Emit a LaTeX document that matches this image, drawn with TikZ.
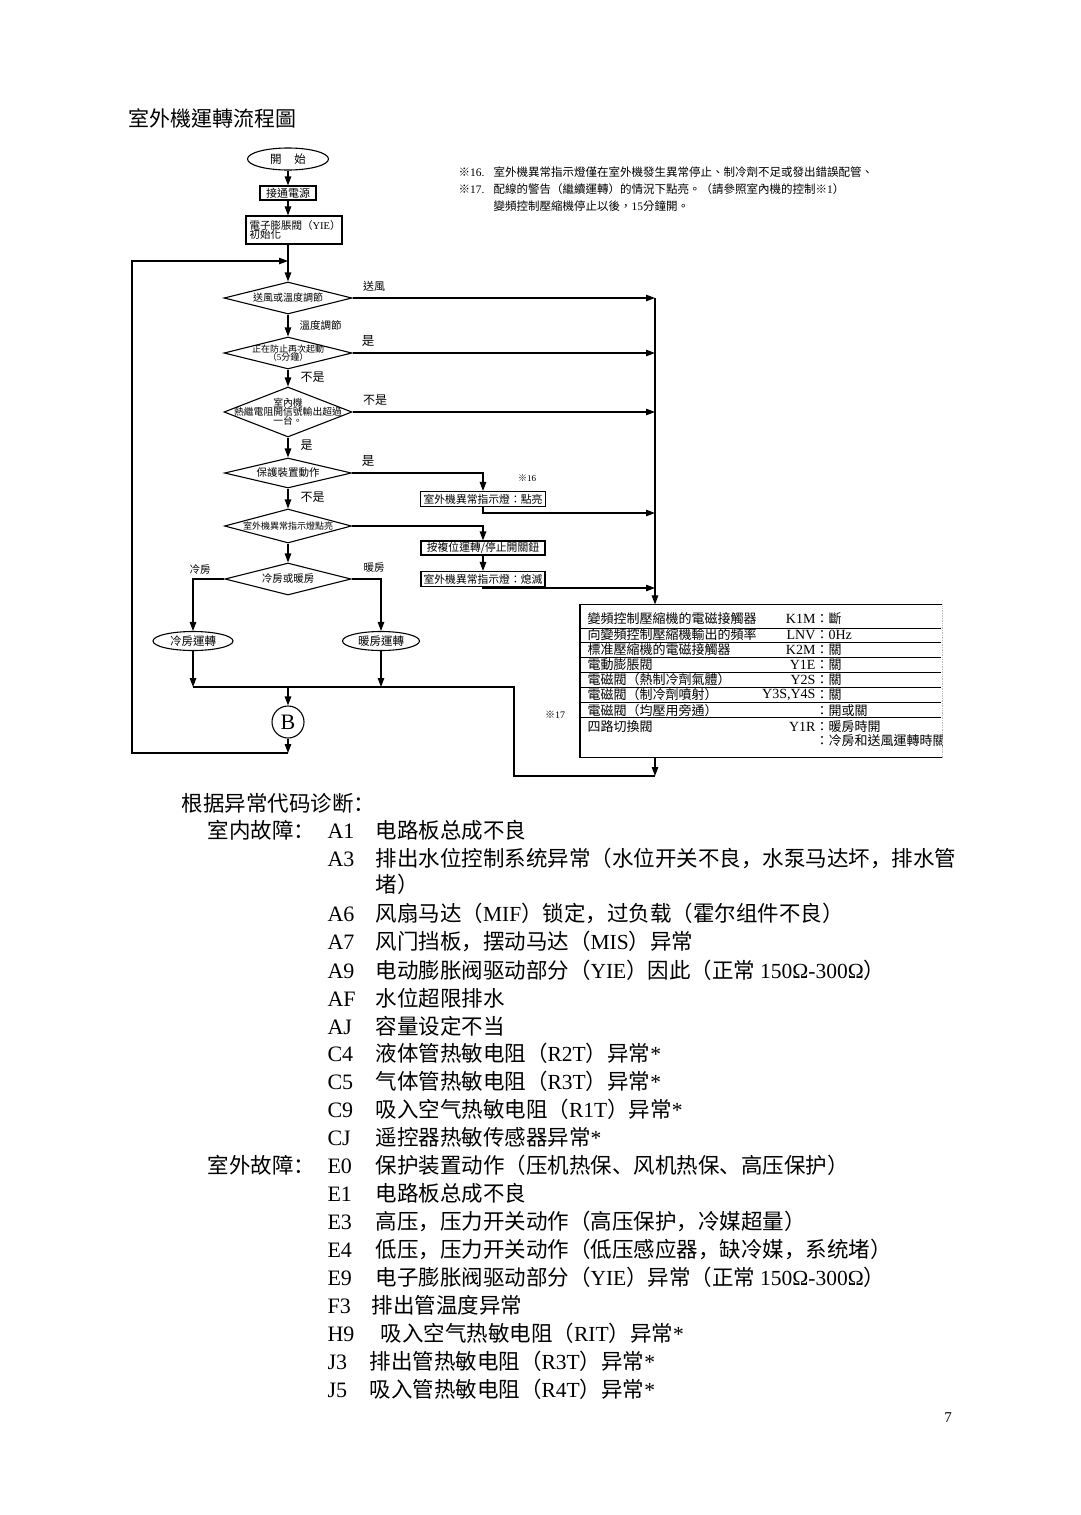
\documentclass[tikz,border=0pt]{standalone}
\usepackage{fontspec}
\setmainfont{Liberation Serif}
\newfontfamily\tcf{Noto Sans CJK TC}
\newfontfamily\scf{Noto Sans CJK SC}
\usetikzlibrary{arrows.meta,shapes.geometric}
\newcommand{\fsz}[1]{\fontsize{#1}{#1}\selectfont}
\newcommand{\lt}[1]{{\rmfamily #1}}
\begin{document}
\begin{tikzpicture}[x=1pt,y=-1pt,line width=1.1pt,
  arr/.style={-{Triangle[length=9pt,width=6.5pt]}},
  dia/.style={draw,diamond,inner sep=0pt},
  box/.style={draw,rectangle,inner sep=0pt},
  termi/.style={draw,ellipse,inner sep=0pt},
  ft/.style={inner sep=0pt,font=\tcf\fsz{10.5}},
  dt/.style={inner sep=0pt,align=center,font=\tcf\fsz{9.5}},
  lab/.style={inner sep=0pt,font=\tcf\fsz{12}},
  tt/.style={inner sep=0pt,font=\tcf\fsz{13}},
  nt/.style={inner sep=0pt,anchor=west,font=\tcf\fsz{11.5}},
  lc/.style={inner sep=0pt,anchor=base west,font=\rmfamily\fsz{22}},
  lx/.style={inner sep=0pt,anchor=base west,font=\scf\fsz{21.5}}]
\useasboundingbox (0,0) rectangle (1080,1515);
\fill[white] (0,0) rectangle (1080,1515);

% title and notes
\node[inner sep=0pt,anchor=west,font=\tcf\fsz{21}] (title) at (128,118) {室外機運轉流程圖};
\node[nt] (n16) at (458,172) {※\lt{16.}};
\node[nt] (n16t) at (493,172) {室外機異常指示燈僅在室外機發生異常停止、制冷劑不足或發出錯誤配管、};
\node[nt] (n17) at (458,189) {※\lt{17.}};
\node[nt] (n17t) at (493,189) {配線的警告（繼續運轉）的情況下點亮。（請參照室內機的控制※\lt{1}）};
\node[nt] (n18t) at (493,206) {變頻控制壓縮機停止以後，\lt{15}分鐘開。};

% main column
\node[termi,minimum width=81pt,minimum height=22pt,font=\tcf\fsz{11.5}] (start) at (288,159) {開\hspace{13pt}始};
\node[box,minimum width=56pt,minimum height=14pt,font=\tcf\fsz{11}] (pw) at (288,193) {接通電源};
\node[box,minimum width=96pt,minimum height=28pt] (init) at (294,230) {};
\node[ft,anchor=west,align=left,font=\tcf\fsz{10.5}] (initt) at (249,230) {電子膨脹閥（\lt{YIE}）\\[-1pt]初始化};
\coordinate (j0) at (288,261);

\node[dia,minimum width=128pt,minimum height=32pt] (d1) at (288,298) {};
\node[dt,font=\tcf\fsz{10}] (d1t) at (d1) {送風或溫度調節};
\node[dia,minimum width=128pt,minimum height=32pt] (d2) at (288,353) {};
\node[dt,font=\tcf\fsz{9}] (d2t) at (d2) {正在防止再次起動\\[-1pt]（\lt{5}分鐘）};
\node[dia,minimum width=128pt,minimum height=50pt] (d3) at (288,412) {};
\node[dt,font=\tcf\fsz{9.8}] (d3t) at (d3) {室內機\\[-1pt]熱繼電阻開信號輸出超過\\[-1pt]一台。};
\node[dia,minimum width=127pt,minimum height=30pt] (d4) at (288,473) {};
\node[dt,font=\tcf\fsz{10.5}] (d4t) at (d4) {保護裝置動作};
\node[dia,minimum width=127pt,minimum height=34pt] (d5) at (288,526) {};
\node[dt,font=\tcf\fsz{9}] (d5t) at (d5) {室外機異常指示燈點亮};
\node[dia,minimum width=126pt,minimum height=32pt] (d6) at (288,579) {};
\node[dt,font=\tcf\fsz{10.5}] (d6t) at (d6) {冷房或暖房};

\node[termi,minimum width=80pt,minimum height=19pt,font=\tcf\fsz{11.5}] (c1) at (193,641) {冷房運轉};
\node[termi,minimum width=77pt,minimum height=19pt,font=\tcf\fsz{11.5}] (h1) at (381,641) {暖房運轉};
\node[draw,circle,minimum size=32pt,inner sep=0pt,font=\rmfamily\fsz{22}] (B) at (288,722) {B};

% branch labels
\node[lab,font=\tcf\fsz{11}] (l1) at (374,286) {送風};
\node[lab,anchor=west,font=\tcf\fsz{10.5}] (l2) at (299,325) {溫度調節};
\node[lab,font=\tcf\fsz{12.5}] (l3) at (368,341) {是};
\node[lab,anchor=west] (l4) at (300,377) {不是};
\node[lab] (l5) at (375,400) {不是};
\node[lab,anchor=west] (l6) at (300,445) {是};
\node[lab,font=\tcf\fsz{12.5}] (l7) at (368,461) {是};
\node[lab,anchor=west] (l8) at (300,497) {不是};
\node[lab,font=\tcf\fsz{10.5}] (l9) at (200,570) {冷房};
\node[lab,font=\tcf\fsz{10.5}] (l10) at (374,568) {暖房};
\node[lab,font=\tcf\fsz{9}] (l11) at (527,478) {※\lt{16}};
\node[lab,font=\tcf\fsz{10}] (l12) at (555,715) {※\lt{17}};

% right boxes
\node[box,minimum width=125pt,minimum height=15pt,font=\tcf\fsz{10.8}] (b1) at (483,499) {室外機異常指示燈：點亮};
\node[box,minimum width=124pt,minimum height=14pt,font=\tcf\fsz{10.8}] (b2) at (483,548) {按複位運轉/停止開關鈕};
\node[box,minimum width=124pt,minimum height=15pt,font=\tcf\fsz{10.8}] (b3) at (483,579) {室外機異常指示燈：熄滅};

% table
\node[minimum width=361pt,minimum height=152pt,inner sep=0pt] (tbl) at (761,681) {};
\draw[line width=1.3pt] (tbl.north east) -- (tbl.north west) -- (tbl.south west) -- (tbl.south east);
\draw[gray!55,line width=0.7pt,densely dotted] (tbl.north east) -- (tbl.south east);
\foreach \yy in {628,642,657,672,687,702,717} \draw[line width=1.0pt] (581,\yy) -- (941,\yy);
\begin{scope}
\clip (tbl.south west) rectangle (tbl.north east);
\node[tt,anchor=west] (r1) at (587,619) {變頻控制壓縮機的電磁接觸器};
\node[tt,anchor=west] (r2) at (587,635) {向變頻控制壓縮機輸出的頻率};
\node[tt,anchor=west] (r3) at (587,650) {標准壓縮機的電磁接觸器};
\node[tt,anchor=west] (r4) at (587,665) {電動膨脹閥};
\node[tt,anchor=west] (r5) at (587,680) {電磁閥（熱制冷劑氣體）};
\node[tt,anchor=west] (r6) at (587,695) {電磁閥（制冷劑噴射）};
\node[tt,anchor=west] (r7) at (587,711) {電磁閥（均壓用旁通）};
\node[tt,anchor=west] (r8) at (587,727) {四路切換閥};
\node[tt,anchor=east,font=\rmfamily\fsz{14}] (k1) at (816,619) {K1M};
\node[tt,anchor=east,font=\rmfamily\fsz{14}] (k2) at (816,635) {LNV};
\node[tt,anchor=east,font=\rmfamily\fsz{14}] (k3) at (816,650) {K2M};
\node[tt,anchor=east,font=\rmfamily\fsz{14}] (k4) at (816,665) {Y1E};
\node[tt,anchor=east,font=\rmfamily\fsz{14}] (k5) at (816,680) {Y2S};
\node[tt,anchor=east,font=\rmfamily\fsz{14}] (k6) at (816,695) {Y3S,Y4S};
\node[tt,anchor=east,font=\rmfamily\fsz{14}] (k8) at (816,727) {Y1R};
\node[tt,anchor=west] (v1) at (815,619) {：斷};
\node[tt,anchor=west] (v2) at (815,635) {：\lt{\fsz{14}0Hz}};
\node[tt,anchor=west] (v3) at (815,650) {：關};
\node[tt,anchor=west] (v4) at (815,665) {：關};
\node[tt,anchor=west] (v5) at (815,680) {：關};
\node[tt,anchor=west] (v6) at (815,695) {：關};
\node[tt,anchor=west] (v7) at (815,711) {：開或關};
\node[tt,anchor=west] (v8) at (815,727) {：暖房時開};
\node[tt,anchor=west] (v9) at (815,741) {：冷房和送風運轉時關};
\end{scope}

% bus coordinates
\coordinate (bus1) at (655,298);
\coordinate (bus2) at (655,353);
\coordinate (bus3) at (655,412);
\coordinate (bus4) at (655,513);
\coordinate (bus5) at (655,588);
\coordinate (mL) at (193,687);
\coordinate (mR) at (381,687);
\coordinate (mC) at (288,687);
\coordinate (mE) at (514,687);
\coordinate (bot) at (655,776);
\coordinate (lp) at (288,753);
\coordinate (lpL) at (132,753);
\coordinate (lpT) at (132,261);

% connectors
\draw[arr] (start) -- (pw);
\draw[arr] (pw) -- (pw |- init.north);
\draw (pw |- init.south) -- (j0);
\draw[arr] (j0) -- (d1);
\draw[arr] (d1) -- (d2);
\draw[arr] (d2) -- (d3);
\draw[arr] (d3) -- (d4);
\draw[arr] (d4) -- (d5);
\draw[arr] (d5) -- (d6);
\draw[arr] (d1) -- (bus1);
\draw[arr] (d2) -- (bus2);
\draw[arr] (d3) -- (bus3);
\draw[arr] (d4.east) -| (b1.north);
\draw[arr] (b1.south) |- (bus4);
\draw[arr] (d5.east) -| (b2.north);
\draw[arr] (b2) -- (b3);
\draw[arr] (b3.south) |- (bus5);
\draw[arr] (bus1) -- (bus1 |- tbl.north);
\draw[arr] (d6.west) -| (c1.north);
\draw[arr] (d6.east) -| (h1.north);
\draw[arr] (c1) -- (mL);
\draw[arr] (h1) -- (mR);
\draw (mL) -- (mE) |- (bot);
\draw[arr] (tbl.south -| bot) -- (bot);
\draw[arr] (mC) -- (B);
\draw[arr] (B) -- (lp);
\draw[arr] (lp) -- (lpL) -- (lpT) -- (j0);

% diagnosis list
\node[lx] (hd) at (181,811) {根据异常代码诊断：};
\node[lx] (in) at (207,838) {室内故障：};
\node[lc] (cA1) at (327,838) {A1};  \node[lx] (tA1) at (375,838) {电路板总成不良};
\node[lc] (cA3) at (327,866) {A3};  \node[lx] (tA3) at (375,866) {排出水位控制系统异常（水位开关不良，水泵马达坏，排水管};
\node[lx] (tA3b) at (375,892) {堵）};
\node[lc] (cA6) at (327,921) {A6};  \node[lx] (tA6) at (375,921) {风扇马达（\lt{MIF}）锁定，过负载（霍尔组件不良）};
\node[lc] (cA7) at (327,949) {A7};  \node[lx] (tA7) at (375,949) {风门挡板，摆动马达（\lt{MIS}）异常};
\node[lc] (cA9) at (327,978) {A9};  \node[lx] (tA9) at (375,978) {电动膨胀阀驱动部分（\lt{YIE}）因此（正常 \lt{150Ω-300Ω}）};
\node[lc] (cAF) at (327,1006) {AF}; \node[lx] (tAF) at (375,1006) {水位超限排水};
\node[lc] (cAJ) at (327,1034) {AJ}; \node[lx] (tAJ) at (375,1034) {容量设定不当};
\node[lc] (cC4) at (327,1061) {C4}; \node[lx] (tC4) at (375,1061) {液体管热敏电阻（\lt{R2T}）异常\lt{*}};
\node[lc] (cC5) at (327,1089) {C5}; \node[lx] (tC5) at (375,1089) {气体管热敏电阻（\lt{R3T}）异常\lt{*}};
\node[lc] (cC9) at (327,1117) {C9}; \node[lx] (tC9) at (375,1117) {吸入空气热敏电阻（\lt{R1T}）异常\lt{*}};
\node[lc] (cCJ) at (327,1145) {CJ}; \node[lx] (tCJ) at (375,1145) {遥控器热敏传感器异常\lt{*}};
\node[lx] (out) at (207,1173) {室外故障：};
\node[lc] (cE0) at (327,1173) {E0}; \node[lx] (tE0) at (375,1173) {保护装置动作（压机热保、风机热保、高压保护）};
\node[lc] (cE1) at (327,1201) {E1}; \node[lx] (tE1) at (375,1201) {电路板总成不良};
\node[lc] (cE3) at (327,1229) {E3}; \node[lx] (tE3) at (375,1229) {高压，压力开关动作（高压保护，冷媒超量）};
\node[lc] (cE4) at (327,1257) {E4}; \node[lx] (tE4) at (375,1257) {低压，压力开关动作（低压感应器，缺冷媒，系统堵）};
\node[lc] (cE9) at (327,1285) {E9}; \node[lx] (tE9) at (375,1285) {电子膨胀阀驱动部分（\lt{YIE}）异常（正常 \lt{150Ω-300Ω}）};
\node[lc] (cF3) at (327,1313) {F3}; \node[lx] (tF3) at (371,1313) {排出管温度异常};
\node[lc] (cH9) at (327,1341) {H9}; \node[lx] (tH9) at (380,1341) {吸入空气热敏电阻（\lt{RIT}）异常\lt{*}};
\node[lc] (cJ3) at (327,1369) {J3}; \node[lx] (tJ3) at (369,1369) {排出管热敏电阻（\lt{R3T}）异常\lt{*}};
\node[lc] (cJ5) at (327,1397) {J5}; \node[lx] (tJ5) at (369,1397) {吸入管热敏电阻（\lt{R4T}）异常\lt{*}};
\node[inner sep=0pt,font=\rmfamily\fsz{15}] (pg) at (948,1418) {7};
\end{tikzpicture}
\end{document}
